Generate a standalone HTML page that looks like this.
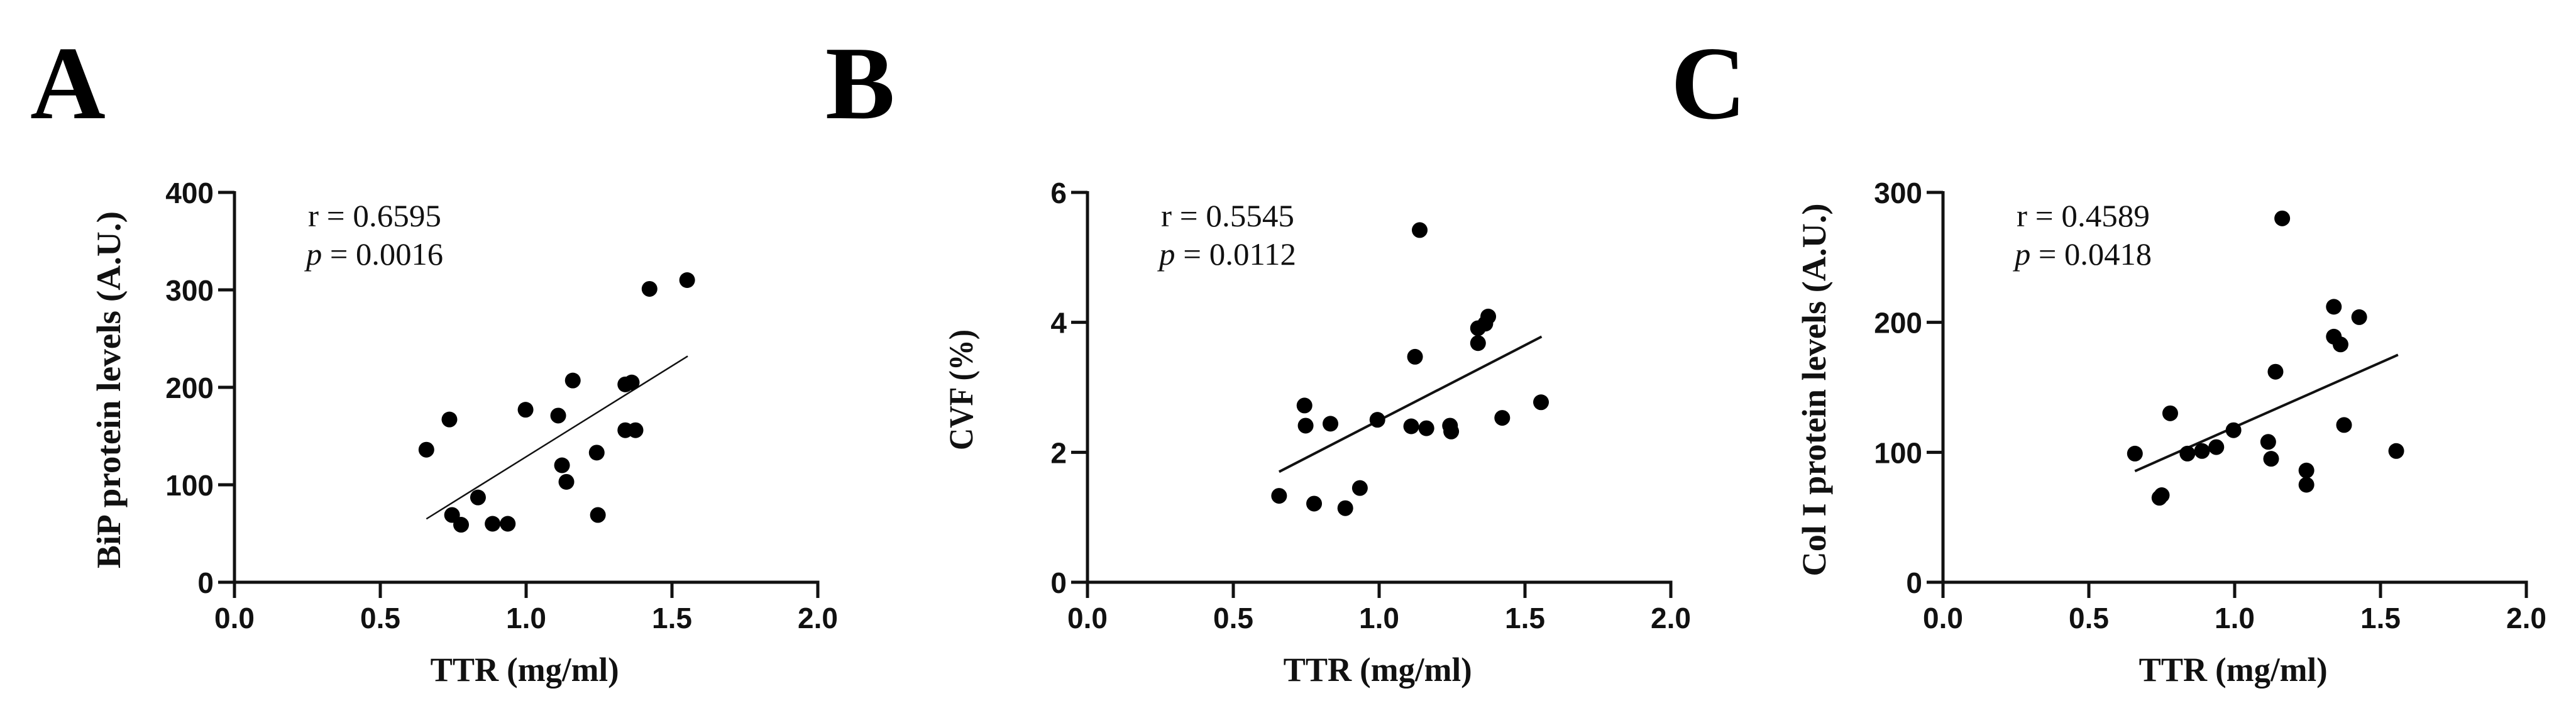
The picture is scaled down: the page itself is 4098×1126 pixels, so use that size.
<!DOCTYPE html>
<html><head><meta charset="utf-8"><style>
html,body{margin:0;padding:0;background:#fff;}
svg{display:block;}
.tick{font-family:"Liberation Sans",Arial,sans-serif;font-weight:bold;font-size:46px;fill:#111;}
.ttl{font-family:"Liberation Serif","Times New Roman",serif;font-weight:bold;font-size:54px;fill:#111;}
.ann{font-family:"Liberation Serif","Times New Roman",serif;font-size:50px;fill:#111;}
.lbl{font-family:"Liberation Serif","Times New Roman",serif;font-weight:bold;font-size:166px;fill:#000;}
</style></head><body>
<svg id="fig" width="4098" height="1126" viewBox="0 0 4098 1126" xmlns="http://www.w3.org/2000/svg">
<text class="lbl" x="48" y="188">A</text>
<text class="lbl" x="1313" y="188">B</text>
<text class="lbl" x="2658" y="188">C</text>
</svg>
<script>
// Shared x data (TTR, mg/ml)
const xTicks = [0, 0.5, 1.0, 1.5, 2.0];
const xTickLabels = ["0.0", "0.5", "1.0", "1.5", "2.0"];

// Panel A: BiP
const aX = [0.658,0.737,0.746,0.777,0.835,0.885,0.937,0.998,1.11,1.123,1.138,1.16,1.242,1.246,1.340,1.362,1.340,1.375,1.423,1.552];
const aY = [136,167,69,59,87,60,60,177,171,120,103,207,133,69,203,205,156,156,301,310];
const aFitX = [0.658, 1.554];
const aFitY = [65, 232];
const aYTicks = [0, 100, 200, 300, 400];
const aYTickLabels = ["0", "100", "200", "300", "400"];

// Panel B: CVF
const bX = [0.657,0.744,0.748,0.777,0.833,0.884,0.934,0.994,1.110,1.123,1.139,1.162,1.243,1.247,1.339,1.339,1.364,1.374,1.422,1.555];
const bY = [1.33,2.72,2.41,1.21,2.44,1.14,1.45,2.50,2.40,3.47,5.42,2.37,2.41,2.32,3.68,3.91,3.98,4.09,2.53,2.77];
const bFitX = [0.657, 1.557];
const bFitY = [1.70, 3.78];
const bYTicks = [0, 2, 4, 6];
const bYTickLabels = ["0", "2", "4", "6"];

// Panel C: Col I
const cX = [0.658,0.742,0.750,0.779,0.838,0.888,0.937,0.996,1.115,1.125,1.140,1.163,1.246,1.246,1.340,1.340,1.363,1.375,1.427,1.554];
const cY = [99,65,67,130,99,101,104,117,108,95,162,280,86,75,212,189,183,121,204,101];
const cFitX = [0.658, 1.56];
const cFitY = [85.5, 175];
const cYTicks = [0, 100, 200, 300];
const cYTickLabels = ["0", "100", "200", "300"];

const NS = "http://www.w3.org/2000/svg";
const svg = document.getElementById("fig");
function mk(tag, attrs, parent) {
  const e = document.createElementNS(NS, tag);
  for (const k in attrs) e.setAttribute(k, attrs[k]);
  (parent || svg).appendChild(e);
  return e;
}

function panel(id, x0, xs, ys, fitX, fitY, yTicks, yLabels, yMax, yTitle, yTitleLen, r, p, fitW) {
  const px0 = x0, pxW = 928, py0 = 926, py1 = 306;
  const sx = v => px0 + v / 2 * pxW;
  const sy = v => py0 - v / yMax * (py0 - py1);
  const g = mk("g", {});
  
  

  const ya = mk("line", {x1: sx(0), y1: sy(yMax) - 2, x2: sx(0), y2: py0 + 25, stroke: "#111", "stroke-width": 5}, g);
  
  
  const xa = mk("line", {x1: sx(0) - 26, y1: py0, x2: sx(2) + 2.5, y2: py0, stroke: "#111", "stroke-width": 5}, g);
  
  

  xTicks.forEach((v, i) => {
    const t = mk("line", {x1: sx(v), y1: py0, x2: sx(v), y2: py0 + 25, stroke: "#111", "stroke-width": 5}, g);
    
    
    const l = mk("text", {class: "tick", x: sx(v), y: 999, "text-anchor": "middle"}, g);
    l.textContent = xTickLabels[i];
    
    
  });
  yTicks.forEach((v, i) => {
    const t = mk("line", {x1: sx(0) - 26, y1: sy(v), x2: sx(0), y2: sy(v), stroke: "#111", "stroke-width": 5}, g);
    
    
    const l = mk("text", {class: "tick", x: sx(0) - 33, y: sy(v) + 17, "text-anchor": "end"}, g);
    l.textContent = yLabels[i];
    
    
  });

  const xt = mk("text", {class: "ttl", x: sx(0.995), y: 1083, "text-anchor": "middle", textLength: 300, lengthAdjust: "spacingAndGlyphs"}, g);
  xt.textContent = "TTR (mg/ml)";
  
  

  const yc = x0 - 200 + (id === 'b' ? 0 : 0);
  const ytX = id === 'a' ? 172 : (id === 'b' ? 1528 : 2885);
  const yt = mk("text", {class: "ttl", x: 0, y: 0, "text-anchor": "middle", textLength: yTitleLen, lengthAdjust: "spacingAndGlyphs", transform: "translate(" + (ytX + 19) + ",620) rotate(-90)"}, g);
  yt.textContent = yTitle;
  
  

  const annX = x0 + 117;
  const t1 = mk("text", {class: "ann", x: annX, y: 360, textLength: 212, lengthAdjust: "spacingAndGlyphs"}, g);
  t1.textContent = "r = " + r;
  
  
  const t2 = mk("text", {class: "ann", x: annX - 3, y: 421, textLength: 218, lengthAdjust: "spacingAndGlyphs"}, g);
  const pi = mk("tspan", {"font-style": "italic"}, t2);
  pi.textContent = "p";
  const rest = mk("tspan", {}, t2);
  rest.textContent = " = " + p;
  
  

  const fl = mk("line", {x1: sx(fitX[0]), y1: sy(fitY[0]), x2: sx(fitX[1]), y2: sy(fitY[1]), stroke: "#111", "stroke-width": fitW}, g);
  
  

  xs.forEach((v, i) => {
    const c = mk("circle", {cx: sx(v), cy: sy(ys[i]), r: 12.5, fill: "#000"}, g);
    
    
  });
}

panel('a', 373, aX, aY, aFitX, aFitY, aYTicks, aYTickLabels, 400, "BiP  protein levels (A.U.)", 568, "0.6595", "0.0016", 2.5);
panel('b', 1730, bX, bY, bFitX, bFitY, bYTicks, bYTickLabels, 6, "CVF (%)", 192, "0.5545", "0.0112", 4);
panel('c', 3091, cX, cY, cFitX, cFitY, cYTicks, cYTickLabels, 300, "Col I protein levels (A.U.)", 593, "0.4589", "0.0418", 4);
</script>
</body></html>
